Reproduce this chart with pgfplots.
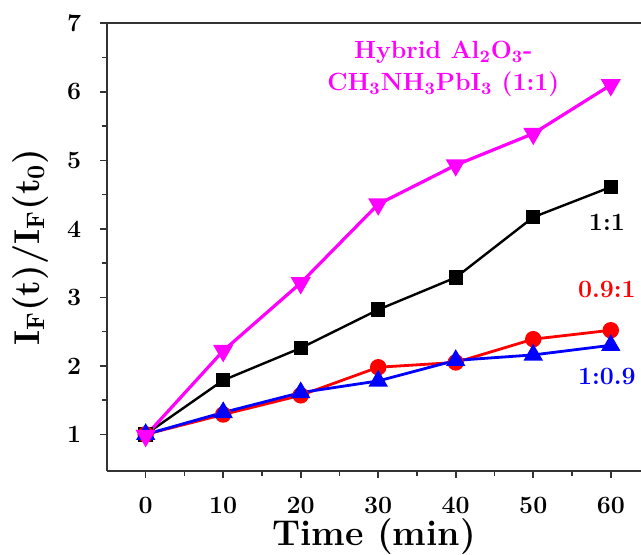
\documentclass[border=0pt]{standalone}
\usepackage{fontspec}
\usepackage{pgfplots}
\pgfplotsset{compat=1.18}

\definecolor{magline}{HTML}{FF00FF}
\definecolor{redline}{HTML}{FF0000}
\definecolor{blueline}{HTML}{0000FF}

\begin{document}
\begin{tikzpicture}
\begin{axis}[
  scale only axis,
  width=266.85bp, height=223.7bp,
  xmin=-4.95, xmax=63.9,
  ymin=0.47, ymax=7,
  axis x line=box, axis y line=left,
  axis line style={-, line width=0.9bp, black!80},
  xtick={0,10,...,60}, ytick={1,2,...,7},
  minor x tick num=1, minor y tick num=1,
  tick align=outside,
  xtick pos=left, ytick pos=left,
  major tick length=3.5bp, minor tick length=2.5bp,
  tick style={line width=0.8bp, black!80},
  /pgf/number format/assume math mode=true,
  ticklabel style={font=\fontsize{12.5}{14}\selectfont\bfseries},
  yticklabel style={xshift=-6bp},
  xticklabel style={yshift=-6bp},
  xlabel={Time (min)},
  ylabel={I\textsubscript{F}(t)/I\textsubscript{F}(t\textsubscript{0})},
  every axis x label/.style={at={(axis description cs:0.5,-0.148)}, anchor=center,
    font=\fontsize{18}{21}\selectfont\bfseries},
  every axis y label/.style={at={(axis description cs:-0.144,0.5)}, anchor=center, rotate=90,
    font=\fontsize{18}{21}\selectfont\bfseries},
  clip=false,
]
\draw[line width=0.9bp, black!80] (rel axis cs:0,1) -- (rel axis cs:1,1);
\addplot[black, line width=1.2bp, mark=square*, mark size=3bp, mark options={solid}]
  coordinates {(0,1.00) (10,1.79) (20,2.26) (30,2.82) (40,3.29) (50,4.17) (60,4.61)};
\addplot[redline, line width=1.4bp, mark=*, mark size=3.4bp]
  coordinates {(0,1.00) (10,1.29) (20,1.57) (30,1.98) (40,2.05) (50,2.39) (60,2.52)};
\addplot[blueline, line width=1.4bp, mark=triangle*, mark size=4.2bp]
  coordinates {(0,1.00) (10,1.32) (20,1.61) (30,1.78) (40,2.08) (50,2.16) (60,2.30)};
\addplot[magline, line width=1.6bp, mark=triangle*, mark size=4.2bp, mark options={rotate=180}]
  coordinates {(0,0.98) (10,2.22) (20,3.21) (30,4.36) (40,4.93) (50,5.39) (60,6.10)};

\node[magline, align=center, font=\fontsize{12.5}{16}\selectfont\bfseries]
  at (axis cs:38.4,6.33)
  {Hybrid Al\textsubscript{2}O\textsubscript{3}-\\CH\textsubscript{3}NH\textsubscript{3}PbI\textsubscript{3} (1:1)};
\node[black, font=\fontsize{12.5}{14}\selectfont\bfseries] at (axis cs:59.5,4.10) {1:1};
\node[redline, font=\fontsize{12.5}{14}\selectfont\bfseries] at (axis cs:59.5,3.11) {0.9:1};
\node[blueline, font=\fontsize{12.5}{14}\selectfont\bfseries] at (axis cs:59.5,1.84) {1:0.9};
\end{axis}
\pgfresetboundingbox
\path[use as bounding box] ([xshift=-53.65bp,yshift=-42.15bp]current axis.south west)
  rectangle ([yshift=11.65bp]current axis.north east);
\end{tikzpicture}
\end{document}
